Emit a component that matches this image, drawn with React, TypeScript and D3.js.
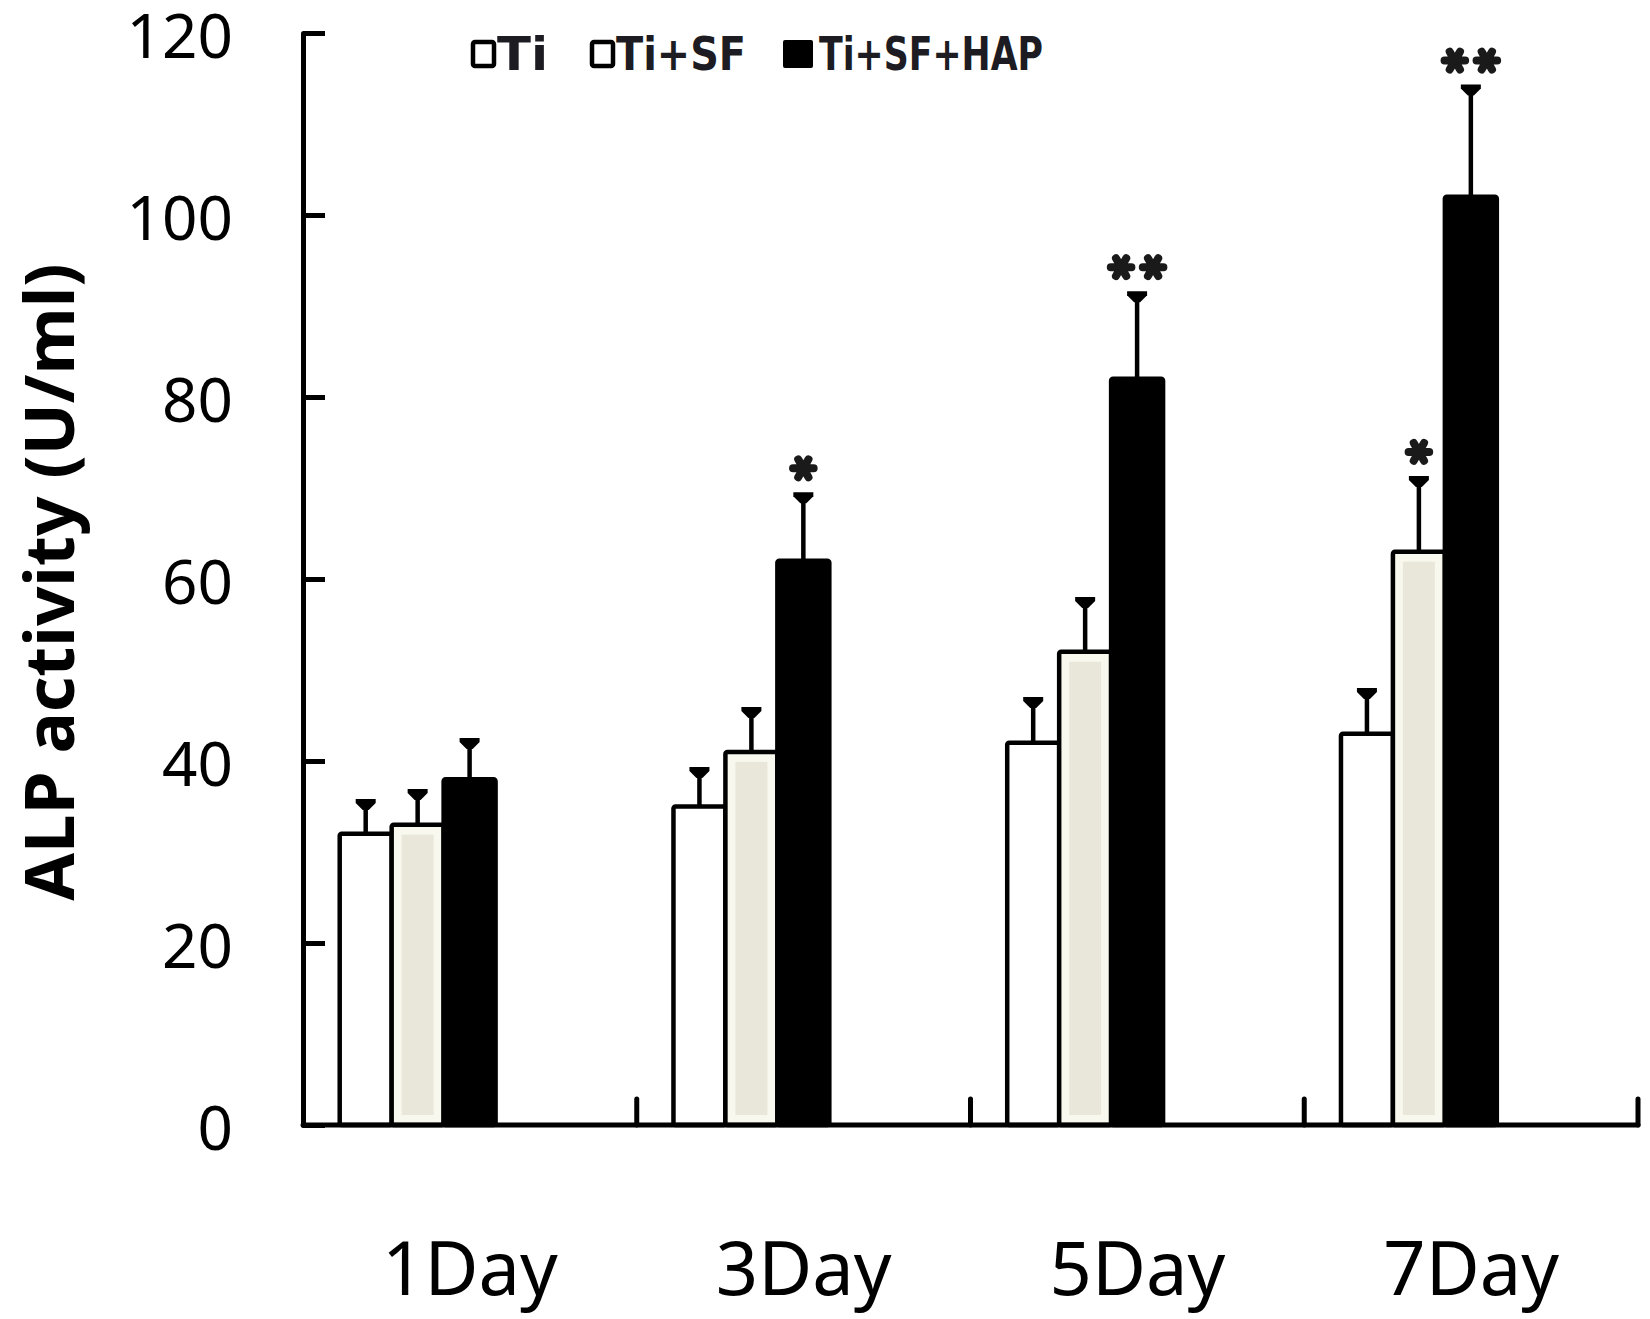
import React from "react";
import * as d3 from "d3";

// chart data
const days = ["1Day", "3Day", "5Day", "7Day"];
const groups = ["Ti", "Ti+SF", "Ti+SF+HAP"];
const tiValues = [32, 35, 42, 43];
const tiErrors = [3.5, 4.0, 4.7, 4.7];
const sfValues = [33, 41, 52, 63];
const sfErrors = [3.6, 4.6, 5.7, 8.0];
const hapValues = [38, 62, 82, 102];
const hapErrors = [4.2, 7.2, 9.3, 12.0];
const tiMarks = ["", "", "", ""];
const sfMarks = ["", "", "", "*"];
const hapMarks = ["", "*", "**", "**"];
const yTicks = [0, 20, 40, 60, 80, 100, 120];

type Bar = {
  day: string;
  group: string;
  value: number;
  error: number;
  mark: string;
};

const series = [
  { group: groups[0], values: tiValues, errors: tiErrors, marks: tiMarks },
  { group: groups[1], values: sfValues, errors: sfErrors, marks: sfMarks },
  { group: groups[2], values: hapValues, errors: hapErrors, marks: hapMarks },
];

const bars: Bar[] = [];
days.forEach((day, i) => {
  series.forEach((s) => {
    bars.push({
      day,
      group: s.group,
      value: s.values[i],
      error: s.errors[i],
      mark: s.marks[i],
    });
  });
});

const WIDTH = 1650;
const HEIGHT = 1319;
const SANS = "'Noto Sans', 'Open Sans', sans-serif";

const App: React.FC = () => {
  const svgRef = React.useRef<SVGSVGElement>(null);

  React.useEffect(() => {
    const svgEl = d3.select(svgRef.current);
    svgEl.selectAll("*").remove();

    svgEl.append("rect").attr("width", WIDTH).attr("height", HEIGHT).attr("fill", "white");

    // scales
    const yScale = d3.scaleLinear().domain([0, 120]).range([1125, 33]);
    const x0 = d3.scaleBand<string>().domain(days).range([303, 1638]);
    const bw = x0.bandwidth();
    const x1 = d3
      .scaleBand<string>()
      .domain(groups)
      .range([bw * 0.11, bw * 0.577]);

    const fillOf = (g: string) =>
      g === groups[0] ? "#ffffff" : g === groups[1] ? "#f9f8ee" : "#000000";

    // bars
    const gBars = svgEl.append("g").attr("id", "bars");
    gBars
      .selectAll("rect.bar")
      .data(bars)
      .join("rect")
      .attr("class", "bar")
      .attr("x", (d) => x0(d.day)! + x1(d.group)!)
      .attr("y", (d) => yScale(d.value))
      .attr("width", x1.bandwidth())
      .attr("height", (d) => yScale(0) - yScale(d.value))
      .attr("fill", (d) => fillOf(d.group))
      .attr("stroke", "#000")
      .attr("stroke-width", 4.5)
      .attr("rx", 2);

    // beige core of the Ti+SF bars
    gBars
      .selectAll("rect.core")
      .data(bars.filter((d) => d.group === groups[1]))
      .join("rect")
      .attr("class", "core")
      .attr("x", (d) => x0(d.day)! + x1(d.group)! + 10)
      .attr("y", (d) => yScale(d.value) + 10)
      .attr("width", x1.bandwidth() - 20)
      .attr("height", (d) => yScale(0) - yScale(d.value) - 20)
      .attr("fill", "#e9e7da");

    // error bars
    const gErr = svgEl.append("g").attr("id", "errors");
    const cx = (d: Bar) => x0(d.day)! + x1(d.group)! + x1.bandwidth() / 2;
    gErr
      .selectAll("line")
      .data(bars)
      .join("line")
      .attr("x1", cx)
      .attr("x2", cx)
      .attr("y1", (d) => yScale(d.value))
      .attr("y2", (d) => yScale(d.value + d.error))
      .attr("stroke", "#000")
      .attr("stroke-width", 4.5);
    gErr
      .selectAll("path")
      .data(bars)
      .join("path")
      .attr("d", (d) => {
        const x = cx(d);
        const y = yScale(d.value + d.error);
        return `M${x - 10},${y - 3}L${x + 10},${y - 3}L${x + 10},${y + 1}L${x + 3},${y + 8}L${x - 3},${y + 8}L${x - 10},${y + 1}Z`;
      })
      .attr("fill", "#000");

    // significance asterisks
    const star = d3.symbol().type(d3.symbolAsterisk).size(300);
    const marks: { x: number; y: number }[] = [];
    bars.forEach((d) => {
      const y = yScale(d.value + d.error) - 27;
      if (d.mark === "*") marks.push({ x: cx(d), y });
      if (d.mark === "**") {
        marks.push({ x: cx(d) - 16, y });
        marks.push({ x: cx(d) + 16, y });
      }
    });
    svgEl
      .append("g")
      .attr("id", "marks")
      .selectAll("path")
      .data(marks)
      .join("path")
      .attr("transform", (d) => `translate(${d.x},${d.y}) rotate(90)`)
      .attr("d", star()!)
      .attr("fill", "none")
      .attr("stroke", "#1a1a1a")
      .attr("stroke-width", 8)
      .attr("stroke-linecap", "round");

    // y axis
    const yAxis = d3
      .axisLeft(yScale)
      .tickValues(yTicks)
      .tickSize(-22)
      .tickSizeOuter(0)
      .tickPadding(70);
    const yAxisGroup = svgEl
      .append("g")
      .attr("id", "axis_y")
      .attr("transform", "translate(303,0)")
      .call(yAxis);
    yAxisGroup.select(".domain").attr("stroke-width", 5).attr("stroke-linecap", "round");
    yAxisGroup.selectAll(".tick line").attr("stroke-width", 5);
    yAxisGroup
      .selectAll(".tick text")
      .attr("font-family", SANS)
      .attr("font-size", 62)
      .attr("fill", "#000")
      .attr("dy", "0.4em");

    // x axis: baseline, group boundary ticks, labels
    const gX = svgEl.append("g").attr("id", "axis_x");
    gX.append("line")
      .attr("x1", x0.range()[0])
      .attr("x2", x0.range()[1])
      .attr("y1", yScale(0))
      .attr("y2", yScale(0))
      .attr("stroke", "#000")
      .attr("stroke-width", 5)
      .attr("stroke-linecap", "round");
    gX.selectAll("line.tick")
      .data(days)
      .join("line")
      .attr("class", "tick")
      .attr("x1", (d) => x0(d)! + bw)
      .attr("x2", (d) => x0(d)! + bw)
      .attr("y1", yScale(0))
      .attr("y2", yScale(0) - 26)
      .attr("stroke", "#000")
      .attr("stroke-width", 5)
      .attr("stroke-linecap", "round");
    gX.selectAll("text")
      .data(days)
      .join("text")
      .attr("x", (d) => x0(d)! + bw / 2)
      .attr("y", 1295)
      .attr("text-anchor", "middle")
      .attr("font-family", SANS)
      .attr("font-size", 74)
      .attr("fill", "#000")
      .text((d) => d);

    // y axis title
    svgEl
      .append("text")
      .attr("transform", "translate(74,582) rotate(-90)")
      .attr("text-anchor", "middle")
      .attr("font-family", SANS)
      .attr("font-weight", "bold")
      .attr("font-size", 69)
      .attr("fill", "#000")
      .text("ALP activity (U/ml)");

    // legend
    const legendItems = [
      { label: groups[0], sx: 473, sw: 21, tx: 497, tw: 51, filled: false },
      { label: groups[1], sx: 592, sw: 21, tx: 616, tw: 130, filled: false },
      { label: groups[2], sx: 785, sw: 30, tx: 819, tw: 224, filled: true },
    ];
    const gLegend = svgEl.append("g").attr("id", "legend");
    legendItems.forEach((it) => {
      gLegend
        .append("rect")
        .attr("x", it.filled ? it.sx - 2 : it.sx)
        .attr("y", it.filled ? 40 : 42)
        .attr("width", it.sw)
        .attr("height", it.filled ? 28 : 24)
        .attr("rx", 2)
        .attr("fill", it.filled ? "#000" : "#fff")
        .attr("stroke", "#000")
        .attr("stroke-width", it.filled ? 0 : 4.5);
      gLegend
        .append("text")
        .attr("x", it.tx)
        .attr("y", 70)
        .attr("font-family", "'Liberation Sans Narrow', 'DejaVu Sans Condensed', 'Liberation Sans', sans-serif")
        .attr("font-weight", "bold")
        .attr("font-size", 46)
        .attr("textLength", it.tw)
        .attr("lengthAdjust", "spacingAndGlyphs")
        .attr("fill", "#1c1c22")
        .text(it.label);
    });
  }, []);

  return (
    <svg
      ref={svgRef}
      width={WIDTH}
      height={HEIGHT}
      viewBox={`0 0 ${WIDTH} ${HEIGHT}`}
      style={{ position: "absolute", left: 0, top: 0, display: "block" }}
    />
  );
};

export default App;
